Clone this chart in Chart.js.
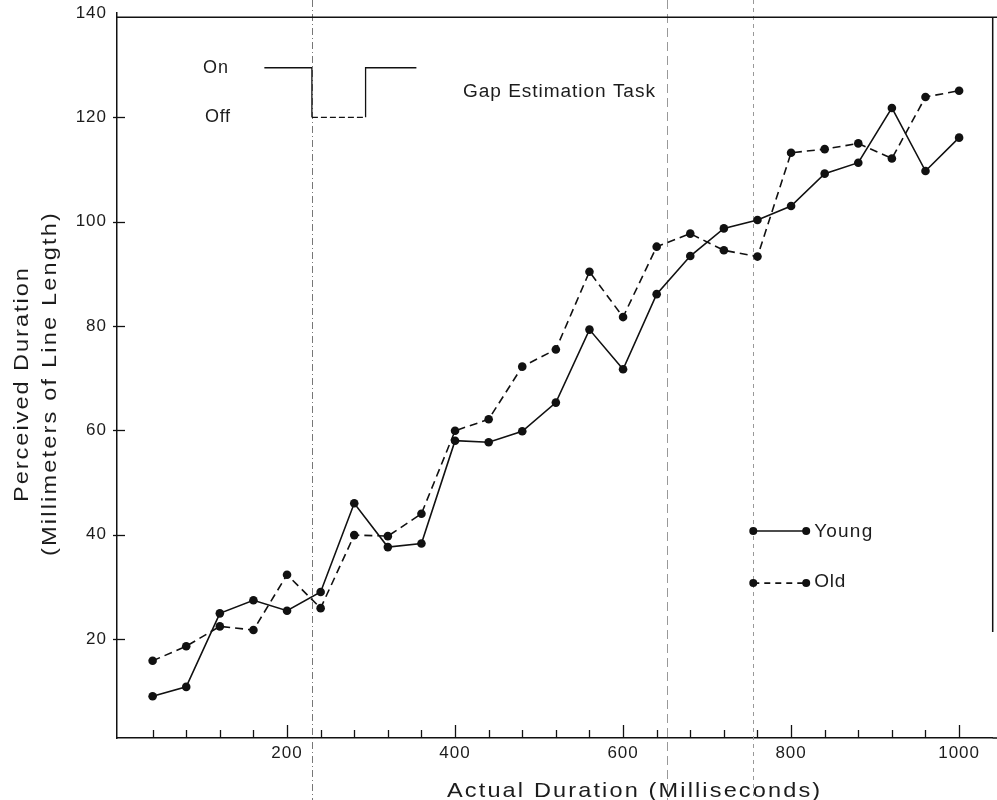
<!DOCTYPE html>
<html>
<head>
<meta charset="utf-8">
<script src="https://cdn.jsdelivr.net/npm/chart.js@4.4.1/dist/chart.umd.min.js"></script>
<style>
  html, body { margin: 0; padding: 0; background: #ffffff; }
  canvas { display: block; }
</style>
</head>
<body>
<canvas id="chart" width="997" height="800"></canvas>
<script>
// ---------------- data ----------------
const durations   = [40, 80, 120, 160, 200, 240, 280, 320, 360, 400, 440, 480, 520,
                     560, 600, 640, 680, 720, 760, 800, 840, 880, 920, 960, 1000];
const youngValues = [9.0, 10.8, 24.9, 27.4, 25.4, 29.0, 46.0, 37.6, 38.3, 58.0, 57.7, 59.8, 65.3,
                     79.3, 71.7, 86.1, 93.4, 98.7, 100.3, 103.0, 109.2, 111.3, 121.8, 109.7, 116.1];
const oldValues   = [15.8, 18.6, 22.4, 21.7, 32.3, 25.9, 39.9, 39.7, 44.0, 59.9, 62.1, 72.2, 75.5,
                     90.4, 81.7, 95.2, 97.7, 94.5, 93.3, 113.2, 113.9, 115.0, 112.1, 123.9, 125.1];
const seriesNames = ['Young', 'Old'];
const xTickLabels = [200, 400, 600, 800, 1000];
const yTickLabels = [20, 40, 60, 80, 100, 120, 140];

// On/Off gap stimulus sketch (in data units)
const traceX   = [173, 229.6, 293.5, 354];
const onLevel  = 129.5;
const offLevel = 120;

// ---------------- style ----------------
const INK  = '#111111';
const TXT  = '#1c1c1c';
const FONT = '"Liberation Sans", Arial, Helvetica, sans-serif';

const xMin = -2.4, xMax = 1040;
const yMin = 1, yMax = 140;

// frame / scan-line helpers (data units)
const frameTopY = 139.2;
const frameRight = { x: xMax, yEnd: 21.3 };
const scanLines = [
  { x: 229.6, dash: [7, 3, 1, 3], color: '#777' },
  { x: 652,   dash: [9, 5],       color: '#999' },
  { x: 755,   dash: [4, 4],       color: '#999' }
];
const legendSpec = { x1: 755, x2: 818, rows: [40.7, 30.7] };

function fitText(ctx, text, x, y, px, width, rot, stretch) {
  stretch = stretch || 1;
  ctx.save();
  ctx.font = px + 'px ' + FONT;
  ctx.fillStyle = TXT;
  ctx.letterSpacing = '0px';
  const w0 = ctx.measureText(text).width;
  const n = text.length;
  const inner = width / stretch;
  const sp = n > 1 ? (inner - w0) / (n - 1) : 0;
  ctx.translate(x, y);
  if (rot) ctx.rotate(rot);
  ctx.textAlign = 'left';
  ctx.textBaseline = 'alphabetic';
  if ('letterSpacing' in ctx && sp >= 0) {
    ctx.scale(stretch, 1);
    ctx.letterSpacing = sp.toFixed(2) + 'px';
    ctx.fillText(text, 0, 0);
  } else {
    ctx.scale(width / w0, 1);
    ctx.fillText(text, 0, 0);
  }
  ctx.restore();
}

function noPad(s) {
  s.paddingTop = 0; s.paddingBottom = 0; s.paddingLeft = 0; s.paddingRight = 0;
}

const decor = {
  id: 'decor',
  beforeDraw(chart) {
    chart.ctx.letterSpacing = '1px';
  },
  beforeDatasetsDraw(chart) {
    const { ctx } = chart;
    const xs = chart.scales.x;
    ctx.save();
    ctx.letterSpacing = '0px';
    ctx.lineWidth = 1;
    scanLines.forEach(l => {
      const px = Math.round(xs.getPixelForValue(l.x)) + 0.5;
      ctx.strokeStyle = l.color;
      ctx.setLineDash(l.dash);
      ctx.beginPath();
      ctx.moveTo(px, 0);
      ctx.lineTo(px, chart.height);
      ctx.stroke();
    });
    ctx.restore();
  },
  afterDraw(chart) {
    const { ctx, chartArea } = chart;
    const xs = chart.scales.x, ys = chart.scales.y;
    ctx.save();
    ctx.letterSpacing = '0px';
    ctx.strokeStyle = INK;
    ctx.setLineDash([]);

    // top frame, axis extension and partial right frame
    const topPx = ys.getPixelForValue(frameTopY);
    ctx.lineWidth = 1.5;
    ctx.beginPath();
    ctx.moveTo(chartArea.left, topPx);
    ctx.lineTo(chart.width, topPx);
    ctx.moveTo(chartArea.right, chartArea.bottom);
    ctx.lineTo(chart.width, chartArea.bottom);
    ctx.stroke();
    const rx = xs.getPixelForValue(frameRight.x);
    ctx.beginPath();
    ctx.moveTo(rx, topPx);
    ctx.lineTo(rx, ys.getPixelForValue(frameRight.yEnd));
    ctx.stroke();

    // inward x ticks
    ctx.lineWidth = 1.3;
    const by = chartArea.bottom;
    durations.forEach(v => {
      const px = Math.round(xs.getPixelForValue(v)) + 0.5;
      const len = xTickLabels.includes(v) ? 13 : 8;
      ctx.beginPath();
      ctx.moveTo(px, by);
      ctx.lineTo(px, by - len);
      ctx.stroke();
    });
    // y ticks crossing the axis
    yTickLabels.forEach(v => {
      if (v >= yMax) return;
      const py = Math.round(ys.getPixelForValue(v)) + 0.5;
      ctx.beginPath();
      ctx.moveTo(chartArea.left - 4, py);
      ctx.lineTo(chartArea.left + 8, py);
      ctx.stroke();
    });

    // legend
    const lx1 = xs.getPixelForValue(legendSpec.x1);
    const lx2 = xs.getPixelForValue(legendSpec.x2);
    legendSpec.rows.forEach((yv, i) => {
      const py = ys.getPixelForValue(yv);
      ctx.lineWidth = 1.6;
      ctx.setLineDash(i === 0 ? [] : [6, 5]);
      ctx.beginPath();
      ctx.moveTo(lx1, py);
      ctx.lineTo(lx2, py);
      ctx.stroke();
      ctx.setLineDash([]);
      ctx.fillStyle = INK;
      [lx1, lx2].forEach(px => {
        ctx.beginPath();
        ctx.arc(px, py, 4, 0, Math.PI * 2);
        ctx.fill();
      });
    });
    ctx.restore();

    // texts
    const tx = lx2 + 8;
    fitText(ctx, seriesNames[0], tx, ys.getPixelForValue(legendSpec.rows[0]) + 6, 19, 58);
    fitText(ctx, seriesNames[1], tx, ys.getPixelForValue(legendSpec.rows[1]) + 4, 19, 31);

    fitText(ctx, 'On', 203, 73, 18, 25);
    fitText(ctx, 'Off', 205, 122, 18, 25);
    fitText(ctx, 'Gap Estimation Task', 463, 97, 18, 192, 0, 1.06);

    fitText(ctx, 'Actual Duration (Milliseconds)', 447, 797, 21, 373, 0, 1.12);
    fitText(ctx, 'Perceived Duration', 28, 502, 21, 234, -Math.PI / 2, 1.12);
    fitText(ctx, '(Millimeters of Line Length)', 56, 556, 21, 343, -Math.PI / 2, 1.12);
  }
};

function pts(xs, ys) { return xs.map((x, i) => ({ x: x, y: ys[i] })); }

const lineCommon = {
  borderColor: INK,
  backgroundColor: INK,
  pointBackgroundColor: INK,
  pointBorderWidth: 0,
  pointRadius: 4.3,
  pointHoverRadius: 4.3,
  tension: 0,
  fill: false
};
const traceCommon = {
  borderColor: INK,
  borderWidth: 1.3,
  pointRadius: 0,
  pointHoverRadius: 0,
  tension: 0,
  fill: false
};

new Chart(document.getElementById('chart'), {
  type: 'line',
  data: {
    datasets: [
      Object.assign({ label: seriesNames[0], data: pts(durations, youngValues), borderWidth: 1.6 }, lineCommon),
      Object.assign({ label: seriesNames[1], data: pts(durations, oldValues), borderWidth: 1.6, borderDash: [8, 5] }, lineCommon),
      Object.assign({ label: 'on1', data: [{ x: traceX[0], y: onLevel }, { x: traceX[1], y: onLevel }, { x: traceX[1], y: offLevel }] }, traceCommon),
      Object.assign({ label: 'off', data: [{ x: traceX[1], y: offLevel }, { x: traceX[2], y: offLevel }], borderDash: [6, 3] }, traceCommon),
      Object.assign({ label: 'on2', data: [{ x: traceX[2], y: offLevel }, { x: traceX[2], y: onLevel }, { x: traceX[3], y: onLevel }] }, traceCommon)
    ]
  },
  options: {
    responsive: false,
    animation: false,
    devicePixelRatio: 1,
    layout: { padding: { top: 13, left: 0, right: 0, bottom: 0 } },
    plugins: { legend: { display: false }, tooltip: { enabled: false } },
    scales: {
      x: {
        type: 'linear',
        min: xMin,
        max: xMax,
        grid: { display: false, drawTicks: false, tickLength: 0 },
        border: { display: true, color: INK, width: 1.5 },
        afterBuildTicks: s => { s.ticks = durations.map(v => ({ value: v })); },
        afterFit: s => { s.height = 62; noPad(s); },
        ticks: {
          autoSkip: false, maxRotation: 0, minRotation: 0, padding: 5,
          color: TXT, font: { family: FONT, size: 17 },
          callback: v => xTickLabels.includes(v) ? String(v) : ''
        }
      },
      y: {
        type: 'linear',
        min: yMin,
        max: yMax,
        grid: { display: false, drawTicks: false, tickLength: 0 },
        border: { display: true, color: INK, width: 1.5 },
        afterBuildTicks: s => { s.ticks = yTickLabels.map(v => ({ value: v })); },
        afterFit: s => { s.width = 117; noPad(s); },
        ticks: {
          padding: 10, color: TXT, font: { family: FONT, size: 17 },
          callback: v => String(v)
        }
      }
    }
  },
  plugins: [decor]
});
</script>
</body>
</html>
